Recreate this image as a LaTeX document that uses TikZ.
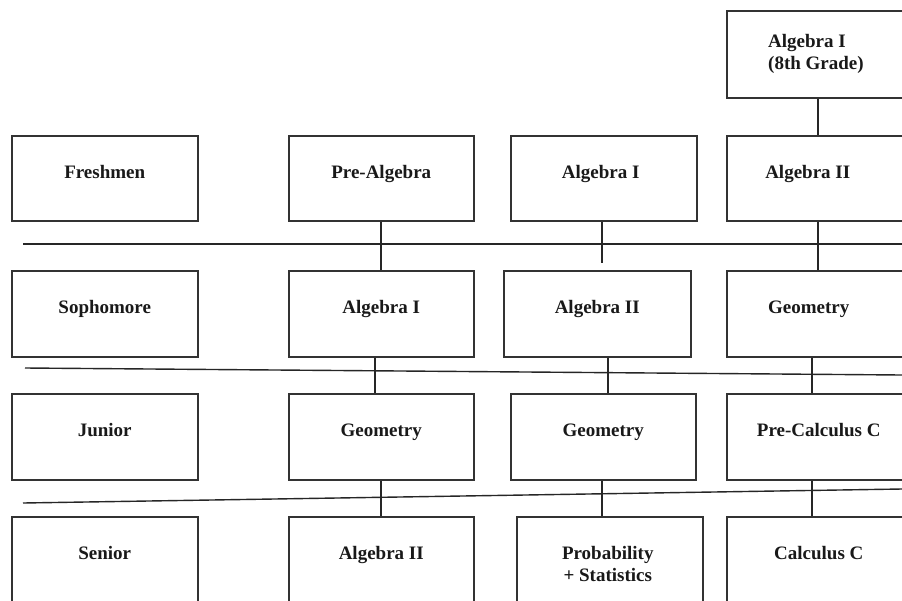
\documentclass[tikz,border=0pt]{standalone}
\usepackage{fontspec}
\setmainfont{Liberation Serif}
\usetikzlibrary{calc}
\begin{document}
\begin{tikzpicture}[x=1pt,y=-1pt,
  box/.style={draw=black!80,line width=1.5pt,minimum width=186pt,minimum height=86pt,inner sep=0pt,anchor=north west},
  lbl/.style={font=\fontsize{19}{22}\selectfont\bfseries,text=black!90,align=center,inner sep=0pt},
  one/.style={lbl,anchor=base},
  conn/.style={draw=black!85,line width=1.3pt},
  sep/.style={draw=black!85,line width=1.4pt}]
\useasboundingbox (0,0) rectangle (902,600);
\clip (0,0) rectangle (902,600);
\fill[white] (0,0) rectangle (902,600);

% boxes
\node[box,minimum height=87pt] (top) at (726,10) {};
\node[box,minimum height=85pt] (fr) at (11,135) {};
\node[box,minimum height=85pt,minimum width=185pt] (pa) at (288,135) {};
\node[box,minimum height=85pt] (a1) at (510,135) {};
\node[box,minimum height=85pt] (a2) at (726,135) {};
\node[box] (so) at (11,270) {};
\node[box,minimum width=185pt] (b1) at (288,270) {};
\node[box,minimum width=187pt] (b2) at (503,270) {};
\node[box] (b3) at (726,270) {};
\node[box] (ju) at (11,393) {};
\node[box,minimum width=185pt] (c1) at (288,393) {};
\node[box,minimum width=185pt] (c2) at (510,393) {};
\node[box] (c3) at (726,393) {};
\node[box,minimum height=100pt] (se) at (11,516) {};
\node[box,minimum height=100pt,minimum width=185pt] (d1) at (288,516) {};
\node[box,minimum height=100pt] (d2) at (516,516) {};
\node[box,minimum height=100pt] (d3) at (726,516) {};

% labels
\node[lbl,align=left,anchor=west] (topt) at (768,54) {Algebra I\\(8th Grade)};
\node[one] (frt) at ($(fr.north)+(0,43)$) {Freshmen};
\node[one] (pat) at ($(pa.north)+(0,43)$) {Pre-Algebra};
\node[one] (a1t) at ($(a1.north)+(-3,43)$) {Algebra I};
\node[one] (a2t) at ($(a2.north)+(-12,43)$) {Algebra II};
\node[one] (sot) at ($(so.north)+(0,43)$) {Sophomore};
\node[one] (b1t) at ($(b1.north)+(0,43)$) {Algebra I};
\node[one] (b2t) at ($(b2.north)+(0,43)$) {Algebra II};
\node[one] (b3t) at ($(b3.north)+(-11,43)$) {Geometry};
\node[one] (jut) at ($(ju.north)+(0,43)$) {Junior};
\node[one] (c1t) at ($(c1.north)+(0,43)$) {Geometry};
\node[one] (c2t) at ($(c2.north)+(0,43)$) {Geometry};
\node[one] (c3t) at ($(c3.north)+(-1,43)$) {Pre-Calculus C};
\node[one] (set) at ($(se.north)+(0,43)$) {Senior};
\node[one] (d1t) at ($(d1.north)+(0,43)$) {Algebra II};
\node[lbl] (d2t) at ($(d2.north)+(-2,48)$) {Probability\\+ Statistics};
\node[one] (d3t) at ($(d3.north)+(-1,43)$) {Calculus C};

% separators
\coordinate (s1a) at (23,244); \coordinate (s1b) at (902,244);
\coordinate (s2a) at (25,368); \coordinate (s2b) at (902,375);
\coordinate (s3a) at (23,503); \coordinate (s3b) at (902,489);
\draw[sep] (s1a) -- (s1b);
\draw[sep] (s2a) -- (s2b);
\draw[sep] (s3a) -- (s3b);

% connector columns
\coordinate (xa) at (381,0);
\coordinate (xb) at (375,0);
\coordinate (xc) at (602,0);
\coordinate (xd) at (608,0);
\coordinate (xe) at (818,0);
\coordinate (xf) at (812,0);
\coordinate (stub) at (602,263);

\draw[conn] (top.south -| xe) -- (a2.north -| xe);
\draw[conn] (pa.south -| xa) -- (b1.north -| xa);
\draw[conn] (a1.south -| xc) -- (stub);
\draw[conn] (a2.south -| xe) -- (b3.north -| xe);
\draw[conn] (b1.south -| xb) -- (c1.north -| xb);
\draw[conn] (b2.south -| xd) -- (c2.north -| xd);
\draw[conn] (b3.south -| xf) -- (c3.north -| xf);
\draw[conn] (c1.south -| xa) -- (d1.north -| xa);
\draw[conn] (c2.south -| xc) -- (d2.north -| xc);
\draw[conn] (c3.south -| xf) -- (d3.north -| xf);
\end{tikzpicture}
\end{document}
